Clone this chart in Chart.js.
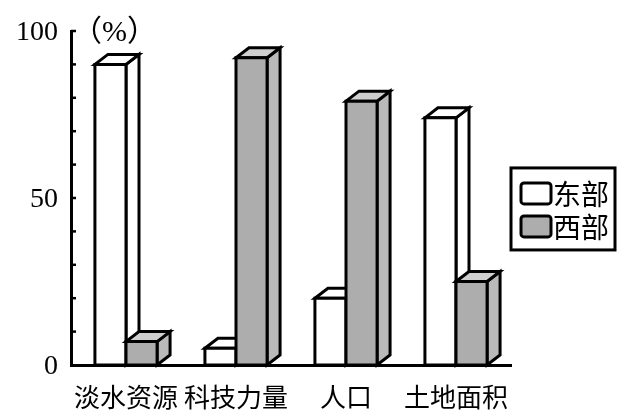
<!DOCTYPE html>
<html>
<head>
<meta charset="utf-8">
<script src="https://cdn.jsdelivr.net/npm/chart.js@4"></script>
<style>
html,body{margin:0;padding:0;background:#fff;}
#wrap{width:618px;height:413px;}
</style>
</head>
<body>
<div id="wrap"><canvas id="myBar"></canvas></div>
<script>
let categories = ['淡水资源', '科技力量', '人口', '土地面积']
let eastValues = [90, 5, 20, 74]
let westValues = [7, 92, 79, 25]
let seriesNames = ['东部', '西部']
let yTickLabels = [0, 50, 100]
let unitLabel = '（%）'

// fake 3d depth of each bar
const depthX = 13, depthY = 10
const faces = [
  {front:'#ffffff', top:'#ffffff', side:'#ffffff'},
  {front:'#adadad', top:'#cfcfcf', side:'#bababa'}
]

function poly(ctx, pts, fill){
  ctx.beginPath()
  ctx.moveTo(pts[0][0], pts[0][1])
  for(let k = 1; k < pts.length; k++) ctx.lineTo(pts[k][0], pts[k][1])
  ctx.closePath()
  ctx.fillStyle = fill
  ctx.fill()
  ctx.stroke()
}

function roundBox(ctx, x, y, w, h, r, fill){
  ctx.beginPath()
  ctx.roundRect(x, y, w, h, r)
  ctx.fillStyle = fill
  ctx.fill()
  ctx.stroke()
}

const boxes3d = {
  id: 'boxes3d',
  beforeDatasetsDraw(chart){
    const ctx = chart.ctx
    ctx.save()
    ctx.lineWidth = 3
    ctx.strokeStyle = '#000'
    for(let i = 0; i < categories.length; i++){
      chart.data.datasets.forEach((ds, d) => {
        const bar = chart.getDatasetMeta(d).data[i]
        const l = bar.x - bar.width/2, r = bar.x + bar.width/2
        const t = bar.y, b = bar.base
        const f = faces[d]
        poly(ctx, [[r,b],[r,t],[r+depthX,t-depthY],[r+depthX,b-depthY]], f.side)
        poly(ctx, [[l,t],[l+depthX,t-depthY],[r+depthX,t-depthY],[r,t]], f.top)
        poly(ctx, [[l,b],[l,t],[r,t],[r,b]], f.front)
      })
    }
    ctx.restore()
    return false
  },
  afterDraw(chart){
    const ctx = chart.ctx
    const y = chart.scales.y
    const area = chart.chartArea
    ctx.save()
    // small ticks pointing inward
    ctx.strokeStyle = '#000'
    ctx.lineWidth = 2.5
    y.ticks.forEach(tk => {
      if(tk.value === 0) return
      const py = y.getPixelForValue(tk.value)
      ctx.beginPath()
      ctx.moveTo(area.left, py)
      ctx.lineTo(area.left + 5, py)
      ctx.stroke()
    })
    // unit
    ctx.fillStyle = '#000'
    ctx.font = '30px "Liberation Serif", "Noto Sans CJK SC"'
    ctx.textBaseline = 'middle'
    ctx.fillText(unitLabel, area.left + 1, area.top + 2)

    // legend, boxed, on the right
    const lx = area.right, ly = y.getPixelForValue(59)
    ctx.lineWidth = 3
    ctx.strokeRect(lx, ly, 104, 82)
    ctx.font = '28px "Noto Sans CJK SC"'
    ctx.textBaseline = 'middle'
    chart.data.datasets.forEach((ds, d) => {
      const cy = ly + 25 + d * 33
      roundBox(ctx, lx + 10, cy - 10, 30, 21, 3, ds.backgroundColor)
      ctx.fillStyle = '#000'
      ctx.fillText(ds.label, lx + 42, cy + 1)
    })
    ctx.restore()
  }
}

let cht = document.getElementById('myBar')
let barChart = new Chart(cht, {
  type: 'bar',
  data: {
    labels: categories,
    datasets: [{
      label: seriesNames[0],
      data: eastValues,
      backgroundColor: faces[0].front,
      borderColor: '#000',
      borderWidth: 3
    }, {
      label: seriesNames[1],
      data: westValues,
      backgroundColor: faces[1].front,
      borderColor: '#000',
      borderWidth: 3
    }]
  },
  options: {
    responsive: true,
    maintainAspectRatio: false,
    animation: false,
    categoryPercentage: 0.565,
    barPercentage: 1,
    layout: { padding: { top: 31, left: 0, right: 107, bottom: 0 } },
    plugins: {
      tooltip: { enabled: false },
      legend: { display: false }
    },
    scales: {
      x: {
        grid: { display: false, drawTicks: false },
        border: { display: true, color: '#000', width: 3 },
        ticks: {
          color: '#000',
          padding: 17,
          maxRotation: 0,
          autoSkip: false,
          font: { size: 26, family: '"Noto Sans CJK SC"' }
        },
        afterFit(scale){ scale.height = 48 }
      },
      y: {
        min: 0,
        max: 100,
        grid: { display: false, drawTicks: false },
        border: { display: true, color: '#000', width: 3 },
        ticks: {
          stepSize: 10,
          autoSkip: false,
          color: '#000',
          padding: 13,
          labelOffset: 2,
          font: { size: 28, family: '"Liberation Serif"' },
          callback: v => yTickLabels.includes(v) ? v : ''
        },
        afterFit(scale){ scale.width = 71 }
      }
    }
  },
  plugins: [boxes3d]
})
</script>
</body>
</html>
